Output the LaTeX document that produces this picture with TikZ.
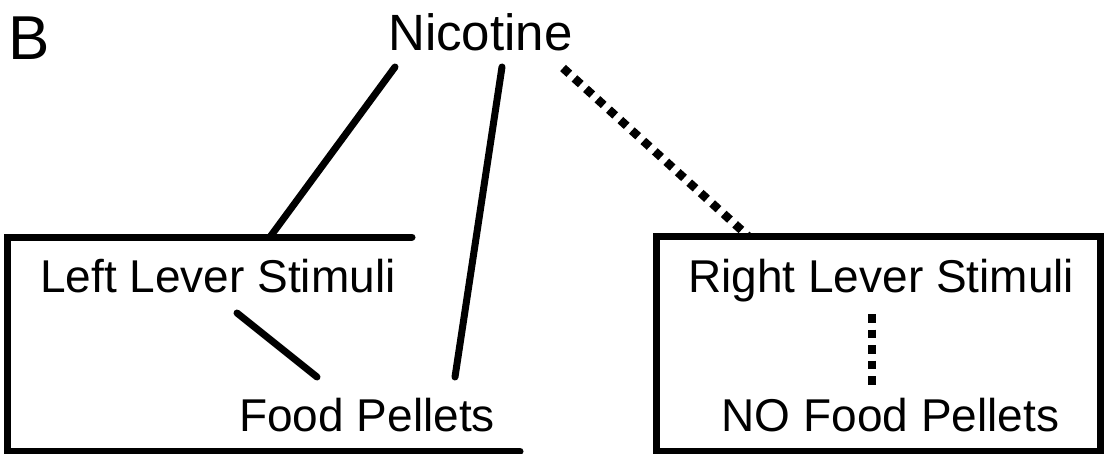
\documentclass[tikz,border=0pt]{standalone}
\usepackage{fontspec}
\setmainfont{Liberation Sans}

\begin{document}
\begin{tikzpicture}[
            x=1pt, y=-1pt,
            every node/.style = {inner sep=0pt, anchor=base west, font=\fontsize{46}{46}\selectfont},
            link/.style = {line width=7pt, line cap=round},
            nolink/.style = {line width=8.5pt, dash pattern=on 8.5pt off 7pt},
            frame/.style = {line width=7pt, line join=miter}
          ]
          \useasboundingbox (0,0) rectangle (1105,453);
          \node (panel) at (8.5,59) {\fontsize{62}{62}\selectfont B};
          \node (nic) at (388,50) {\fontsize{51}{51}\selectfont Nicotine};
          \node (leftstim) at (40,292) {Left Lever Stimuli};
          \node (food) at (239,431) {Food Pellets};
          \node (rightstim) at (688,292) {Right Lever Stimuli};
          \node (nofood) at (721.5,431) {NO Food Pellets};
          % end points of the links
          \coordinate (nic-a) at (395,67);
          \coordinate (nic-b) at (502,67);
          \coordinate (nic-c) at (563,68);
          \coordinate (lbox-top) at (270,237);
          \coordinate (rbox-top) at (748,236);
          \coordinate (leftstim-out) at (237,313);
          \coordinate (food-a) at (317,377);
          \coordinate (food-b) at (455,377);
          \coordinate (rightstim-out) at (872,314);
          \coordinate (nofood-in) at (872,385);
          % frames
          \draw[frame, line cap=round] (412,237) -- (7,237) -- (7,451) -- (520,451);
          \draw[frame] (656.5,236.5) rectangle (1100,451);
          % links
          \draw[link] (nic-a) -- (lbox-top);
          \draw[link] (nic-b) -- (food-b);
          \draw[link] (leftstim-out) -- (food-a);
          \draw[nolink] (nic-c) -- (rbox-top);
          \draw[nolink] (rightstim-out) -- (nofood-in);
        \end{tikzpicture}
\end{document}
